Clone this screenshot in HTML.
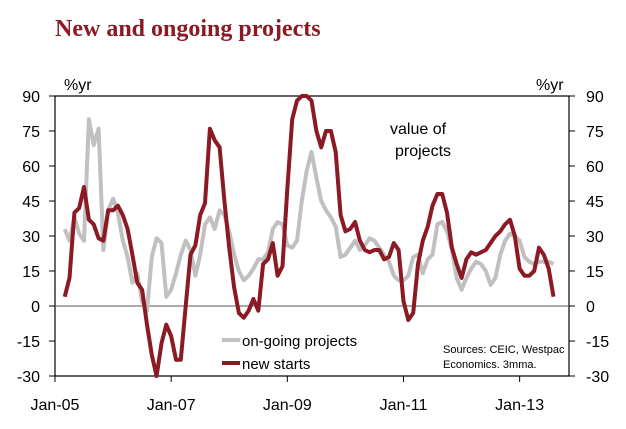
<!DOCTYPE html>
<html><head><meta charset="utf-8"><style>
body{margin:0;background:#fff;width:626px;height:429px;overflow:hidden}
svg{display:block}
text{font-family:"Liberation Sans",Arial,sans-serif}
</style></head><body>
<svg id="chart" width="626" height="429">
<text x="55" y="36" font-family="Liberation Serif" font-weight="bold" font-size="24" fill="#8b1a24" style="font-family:'Liberation Serif',serif">New and ongoing projects</text>
<text x="64" y="90" font-size="16" fill="#000">%yr</text>
<text x="536" y="90" font-size="16" fill="#000">%yr</text>
<text x="390" y="134" font-size="16" fill="#000">value of</text>
<text x="395" y="156" font-size="16" fill="#000">projects</text>
<text x="443" y="353" font-size="11" fill="#000">Sources: CEIC, Westpac</text>
<text x="443" y="368" font-size="11" fill="#000">Economics. 3mma.</text>
<g id="axes"></g>
<g id="series"></g>
<line x1="222" y1="340" x2="240" y2="340" stroke="#c0c0c0" stroke-width="4"/>
<text x="242" y="346" font-size="15" fill="#000">on-going projects</text>
<line x1="222" y1="363" x2="240" y2="363" stroke="#8b1a24" stroke-width="4"/>
<text x="242" y="369" font-size="15" fill="#000">new starts</text>
</svg>
<script>
const yTicks=[90,75,60,45,30,15,0,-15,-30];
const xTickLabels=["Jan-05","Jan-07","Jan-09","Jan-11","Jan-13"];
const xTickMonths=[0,24,48,72,96];
const startMonth=2;
const newStarts=[4,12,40,42,51,37,35,29,28,41,41,43,39,33,22,10,7,-8,-21,-30,-16,-8,-13,-23,-23,0,22,26,39,44,76,71,68,45,25,8,-3,-5,-2,3,-2,18,20,27,13,17,50,80,88,90,90,88,75,68,75,75,66,39,32,33,36,28,24,23,24,24,20,21,27,24,2,-6,-3,18,28,34,43,48,48,40,25,18,12,20,23,22,23,24,27,30,32,35,37,30,16,13,13,15,25,22,16,4];
const ongoing=[33,28,38,31,28,80,69,76,24,41,46,40,28,21,10,14,2,-2,21,29,27,4,7,14,22,28,24,13,22,35,38,33,41,39,32,22,15,11,13,16,20,20,23,33,36,35,26,25,28,45,58,66,55,45,41,38,34,21,22,25,28,24,26,29,28,25,22,19,13,11,11,13,21,22,14,20,22,35,36,32,24,12,7,12,16,19,18,15,9,12,22,28,31,30,28,21,19,18,19,19,19,18];
const L=55,R=569,T=96,B=376,ymin=-30,ymax=90;
const xs=m=>L+m*4.84;
const ys=v=>B-(v-ymin)/(ymax-ymin)*(B-T);
const NS="http://www.w3.org/2000/svg";
const ax=document.getElementById('axes'),sg=document.getElementById('series');
function mk(tag,at,p){const e=document.createElementNS(NS,tag);for(const k in at)e.setAttribute(k,at[k]);p.appendChild(e);return e;}
let f=mk('rect',{x:L,y:T,width:R-L,height:B-T,fill:'none',stroke:'#000','stroke-width':1.2},ax);


let z=mk('line',{x1:L,x2:R,y1:ys(0),y2:ys(0),stroke:'#555','stroke-width':1},ax);


yTicks.forEach(v=>{
  const y=ys(v);
  mk('line',{x1:L-6,x2:L,y1:y,y2:y,stroke:'#000'},ax);
  mk('line',{x1:R,x2:R+6,y1:y,y2:y,stroke:'#000'},ax);
  let t=mk('text',{x:40,y:y+6,'text-anchor':'end','font-size':16},ax);t.textContent=v;
  
  
  let t2=mk('text',{x:586,y:y+6,'font-size':16},ax);t2.textContent=v;
  
  
});
xTickMonths.forEach((m,i)=>{
  const x=xs(m);
  mk('line',{x1:x,x2:x,y1:B,y2:B+6,stroke:'#000'},ax);
  let t=mk('text',{x:x,y:410,'text-anchor':'middle','font-size':16},ax);t.textContent=xTickLabels[i];
  
  
});
mk('line',{x1:xs(xTickMonths[4]+24),x2:xs(xTickMonths[4]+24),y1:B,y2:B+6,stroke:'#000'},ax);
function line(arr,col,name){
  const pts=arr.map((v,i)=>xs(startMonth+i).toFixed(1)+','+ys(Math.max(ymin,Math.min(ymax,v))).toFixed(1)).join(' ');
  const p=mk('polyline',{points:pts,fill:'none',stroke:col,'stroke-width':4,'stroke-linejoin':'round'},sg);
  
  
}
line(ongoing,'#c0c0c0','ongoing-projects-line');
line(newStarts,'#8b1a24','new-starts-line');
</script>
</body></html>
